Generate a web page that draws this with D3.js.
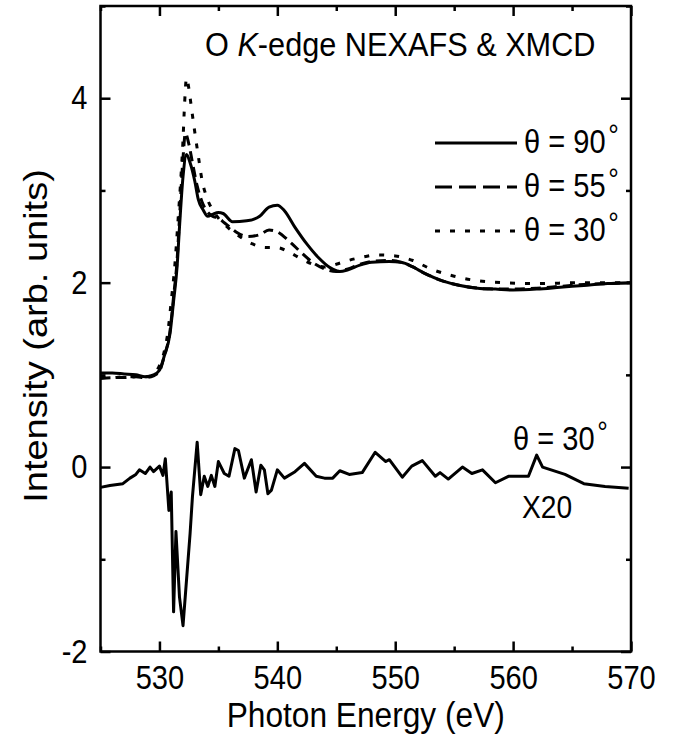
<!DOCTYPE html>
<html lang="en">
<head>
<meta charset="utf-8">
<title>O K-edge NEXAFS & XMCD</title>
<script src="https://cdn.jsdelivr.net/npm/d3@7"></script>
<style>
  body { margin: 0; background: #fff; }
  text { font-family: "Liberation Sans", Arial, Helvetica, sans-serif; fill: #000; }
  .axis path { display: none; }
  .axis line { stroke: #000; stroke-width: 2.5; }
</style>
</head>
<body>
<script>

// theta = 90 deg (solid)
var e90 = [525, 526, 527, 528, 528.8, 529.5, 530.0, 530.4, 530.9, 531.2, 531.5, 531.7, 532.0, 532.3, 532.6,
  533.0, 533.3, 533.7, 534.1, 534.5, 535.0, 535.4, 536.2, 537.4, 538.5, 539.3, 540.0, 540.6, 541.5, 542.5,
  543.5, 544.5, 545.3, 546.0, 547.0, 548.0, 549.5, 550.5, 551.5, 552.5, 554.0, 555.5, 557.0, 558.5, 560.0,
  562.0, 564.0, 566.0, 568.0, 570.0];
var i90 = [1.02, 1.02, 1.01, 1.0, 0.98, 1.0, 1.05, 1.2, 1.45, 1.8, 2.18, 2.6, 3.15, 3.39, 3.3,
  3.1, 2.9, 2.79, 2.72, 2.74, 2.76, 2.75, 2.66, 2.67, 2.72, 2.82, 2.84, 2.78, 2.6, 2.42,
  2.27, 2.16, 2.12, 2.14, 2.19, 2.22, 2.23, 2.22, 2.17, 2.1, 2.02, 1.97, 1.94, 1.93, 1.92,
  1.93, 1.95, 1.97, 1.99, 2.0];

// theta = 55 deg (dashed)
var e55 = [525, 526, 527, 528, 528.8, 529.5, 530.0, 530.4, 530.9, 531.2, 531.5, 531.7, 532.0, 532.2, 532.5,
  532.8, 533.2, 533.6, 534.0, 534.5, 535.0, 535.5, 536.0, 536.5, 537.5, 538.5, 539.3, 540.0, 541.0, 542.0,
  543.0, 544.0, 545.0, 546.0, 547.0, 548.0, 549.5, 550.5, 551.5, 552.5, 554.0, 555.5, 557.0, 558.5, 560.0,
  562.0, 564.0, 566.0, 568.0, 570.0];
var i55 = [0.96, 0.97, 0.97, 0.98, 0.97, 0.99, 1.04, 1.2, 1.48, 1.85, 2.25, 2.7, 3.35, 3.62, 3.5,
  3.3, 3.05, 2.88, 2.78, 2.72, 2.7, 2.65, 2.6, 2.55, 2.5, 2.52, 2.57, 2.55, 2.45, 2.33,
  2.22, 2.15, 2.12, 2.15, 2.2, 2.23, 2.24, 2.22, 2.17, 2.1, 2.02, 1.97, 1.94, 1.93, 1.93,
  1.94, 1.96, 1.98, 1.99, 2.0];

// theta = 30 deg (dotted)
var e30 = [525, 526, 527, 528, 529, 529.6, 530.0, 530.4, 530.7, 531.0, 531.3, 531.6, 531.8, 532.0, 532.1,
  532.3, 532.5, 532.7, 533.0, 533.3, 533.6, 534.0, 534.5, 535.0, 535.7, 536.8, 537.9, 539.0, 540.0, 541.0,
  542.0, 543.0, 544.0, 545.0, 546.0, 547.0, 548.5, 550.0, 551.5, 553.0, 555.0, 557.0, 559.0, 562.0, 566.0, 570.0];
var i30 = [0.97, 0.97, 0.98, 0.98, 0.98, 1.02, 1.1, 1.25, 1.45, 1.8, 2.18, 2.72, 3.1, 3.55, 3.85,
  4.22, 4.1, 3.91, 3.63, 3.37, 3.12, 2.93, 2.79, 2.7, 2.61, 2.5, 2.42, 2.38, 2.38, 2.33,
  2.26, 2.2, 2.17, 2.2, 2.24, 2.27, 2.3, 2.29, 2.24, 2.15, 2.07, 2.02, 2.0, 1.99, 2.0, 2.0];

// XMCD at theta = 30 deg, x20
var eXmcd = [525.0, 525.8, 526.9, 527.5, 528.0, 528.3, 528.8, 529.2, 529.5, 530.0, 530.3, 530.5, 530.8, 531.0,
  531.2, 531.4, 531.7, 532.0, 532.6, 532.8, 533.2, 533.5, 533.8, 534.1, 534.4, 534.7, 535.0, 535.5,
  535.9, 536.4, 536.7, 537.2, 537.8, 538.2, 538.6, 538.9, 539.2, 539.5, 540.0, 540.6, 541.5, 542.3,
  543.3, 544.0, 544.7, 545.3, 546.1, 547.2, 548.3, 549.2, 549.5, 550.6, 551.4, 552.3, 553.4, 553.8,
  554.5, 555.7, 556.5, 557.4, 558.5, 559.6, 561.3, 562.0, 562.5, 564.4, 566.0, 567.8, 569.8];
var iXmcd = [-0.22, -0.2, -0.18, -0.12, -0.08, -0.03, -0.07, 0.0, -0.05, 0.01, -0.09, 0.09, -0.47, -0.27,
  -1.57, -0.7, -1.41, -1.72, -0.72, -0.32, 0.27, -0.3, -0.1, -0.21, -0.09, -0.21, 0.06, -0.07,
  -0.1, 0.2, 0.18, -0.12, 0.08, -0.27, 0.02, -0.03, -0.29, -0.25, -0.03, -0.12, -0.05, 0.04,
  -0.1, -0.12, -0.12, -0.04, -0.08, -0.06, 0.16, 0.06, 0.08, -0.11, 0.01, 0.07, -0.1, -0.06,
  -0.13, 0.0, -0.07, -0.03, -0.17, -0.1, -0.1, 0.13, 0.0, -0.08, -0.18, -0.21, -0.23];

var xMajor = [530, 540, 550, 560, 570];
var xMinor = [525, 535, 545, 555, 565];
var yMajor = [-2, 0, 2, 4];
var yMinor = [-1, 1, 3, 5];
var legendLabels = ["90", "55", "30"];

var width = 679, height = 743;
var margin = {top: 6, right: 48, bottom: 91.5, left: 100.5};
var w = width - margin.left - margin.right;
var h = height - margin.top - margin.bottom;
var sx = 0.88;   // the source figure is a little narrow horizontally

var svg = d3.select("body").append("svg")
    .attr("width", width)
    .attr("height", height);

var g = svg.append("g")
    .attr("transform", "translate(" + margin.left + "," + margin.top + ")");

var x = d3.scaleLinear().domain([525, 570]).range([0, w]);
var y = d3.scaleLinear().domain([-2, 5]).range([h, 0]);

// plain hyphen for negatives, like the source
var fmt = function(d) { return String(d); };

// ticks, all pointing inwards
g.append("g").attr("class", "axis").attr("transform", "translate(0," + h + ")")
  .call(d3.axisBottom(x).tickValues(xMajor).tickSize(-10).tickPadding(14).tickFormat(fmt))
  .selectAll("text").style("font-size", "33px").attr("transform", "scale(" + sx + ",1)");
g.append("g").attr("class", "axis").attr("transform", "translate(0," + h + ")")
  .call(d3.axisBottom(x).tickValues(xMinor).tickSize(-5).tickFormat(""));
g.append("g").attr("class", "axis")
  .call(d3.axisTop(x).tickValues(xMajor).tickSize(-10).tickFormat(""));
g.append("g").attr("class", "axis")
  .call(d3.axisTop(x).tickValues(xMinor).tickSize(-5).tickFormat(""));

g.append("g").attr("class", "axis")
  .call(d3.axisLeft(y).tickValues(yMajor).tickSize(-10).tickPadding(14.8).tickFormat(fmt))
  .selectAll("text").style("font-size", "33px").attr("transform", "scale(" + sx + ",1)");
g.append("g").attr("class", "axis")
  .call(d3.axisLeft(y).tickValues(yMinor).tickSize(-5).tickFormat(""));
g.append("g").attr("class", "axis").attr("transform", "translate(" + w + ",0)")
  .call(d3.axisRight(y).tickValues(yMajor).tickSize(-10).tickFormat(""));
g.append("g").attr("class", "axis").attr("transform", "translate(" + w + ",0)")
  .call(d3.axisRight(y).tickValues(yMinor).tickSize(-5).tickFormat(""));

// frame
g.append("rect")
  .attr("width", w).attr("height", h)
  .attr("fill", "none").attr("stroke", "#000").attr("stroke-width", 2.5);

// curves
function pts(es, is) { return es.map(function(e, i) { return [e, is[i]]; }); }

var smooth = d3.line()
  .x(function(d) { return x(d[0]); })
  .y(function(d) { return y(d[1]); })
  .curve(d3.curveMonotoneX);
var jagged = d3.line()
  .x(function(d) { return x(d[0]); })
  .y(function(d) { return y(d[1]); });

var styles = [
  {data: pts(e90, i90), dash: null},
  {data: pts(e55, i55), dash: "10,6"},
  {data: pts(e30, i30), dash: "5,10"}
];
styles.forEach(function(s) {
  g.append("path")
    .attr("d", smooth(s.data))
    .attr("fill", "none")
    .attr("stroke", "#000")
    .attr("stroke-width", 3)
    .attr("stroke-dasharray", s.dash);
});

g.append("path")
  .attr("d", jagged(pts(eXmcd, iXmcd)))
  .attr("fill", "none")
  .attr("stroke", "#000")
  .attr("stroke-width", 3)
  .attr("stroke-linejoin", "round");

// squeezed text placed at (px, py)
function label(px, py, size, scale) {
  return svg.append("text")
    .attr("transform", "translate(" + px + "," + py + ") scale(" + (scale || sx) + ",1)")
    .style("font-size", size + "px");
}
function degree(t, txt) {
  t.append("tspan").text(txt);
  t.append("tspan").attr("dx", 3).attr("dy", -8).style("font-size", "30px").text("\u00b0");
}

// title
var title = label(205, 56, 33, 0.93);
title.append("tspan").text("O ");
title.append("tspan").style("font-style", "italic").text("K");
title.append("tspan").text("-edge NEXAFS & XMCD");

// legend
var legDash = [null, "17,7", "5,10"];
legendLabels.forEach(function(lab, i) {
  var ly = 143 + i * 44;
  svg.append("line")
    .attr("x1", 435).attr("x2", 517)
    .attr("y1", ly).attr("y2", ly)
    .attr("stroke", "#000").attr("stroke-width", 3)
    .attr("stroke-dasharray", legDash[i]);
  degree(label(524, ly + 10, 33), "\u03b8 = " + lab);
});

// XMCD annotations
degree(label(513, 450, 33), "\u03b8 = 30");
label(522, 518, 32).text("X20");

// axis titles
label(margin.left + w / 2, 727, 36).attr("text-anchor", "middle").text("Photon Energy (eV)");

svg.append("text")
  .attr("transform", "translate(47,336) scale(" + sx + ",1) rotate(-90)")
  .attr("text-anchor", "middle")
  .style("font-size", "38px")
  .text("Intensity (arb. units)");

</script>
</body>
</html>
